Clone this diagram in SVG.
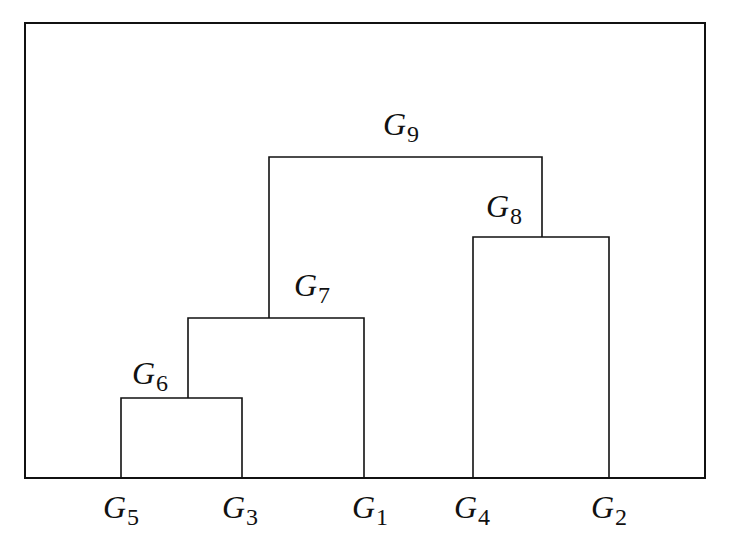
<svg xmlns="http://www.w3.org/2000/svg" width="737" height="542" viewBox="0 0 737 542">
<style>
.frame{fill:none;stroke:#111;stroke-width:2}
.ln{fill:none;stroke:#111;stroke-width:1.6}
.lb{font-family:"Liberation Serif","Times New Roman",serif;font-style:italic;font-size:32px;fill:#111}
.sb{font-style:normal;font-size:24px}
</style>
<rect width="737" height="542" fill="#fff"/>
<rect class="frame" x="25" y="23" width="680" height="455"/>
<g id="connectors">
<path class="ln" d="M121,478 V398 H242 V478"/>
<path class="ln" d="M188,398 V318 H364 V478"/>
<path class="ln" d="M473,478 V237 H609 V478"/>
<path class="ln" d="M269,318 V157 H542 V237"/>
</g>
<g id="G9"><text class="lb" x="383" y="135">G<tspan class="sb" dx="1" dy="7">9</tspan></text></g>
<g id="G8"><text class="lb" x="486" y="217">G<tspan class="sb" dx="1" dy="7">8</tspan></text></g>
<g id="G7"><text class="lb" x="294" y="296">G<tspan class="sb" dx="1" dy="7">7</tspan></text></g>
<g id="G6"><text class="lb" x="132" y="384">G<tspan class="sb" dx="1" dy="7">6</tspan></text></g>
<g id="G5"><text class="lb" x="103" y="518">G<tspan class="sb" dx="1" dy="7">5</tspan></text></g>
<g id="G3"><text class="lb" x="222" y="518">G<tspan class="sb" dx="1" dy="7">3</tspan></text></g>
<g id="G1"><text class="lb" x="352" y="518">G<tspan class="sb" dx="1" dy="7">1</tspan></text></g>
<g id="G4"><text class="lb" x="454" y="518">G<tspan class="sb" dx="1" dy="7">4</tspan></text></g>
<g id="G2"><text class="lb" x="591" y="518">G<tspan class="sb" dx="1" dy="7">2</tspan></text></g>
</svg>
